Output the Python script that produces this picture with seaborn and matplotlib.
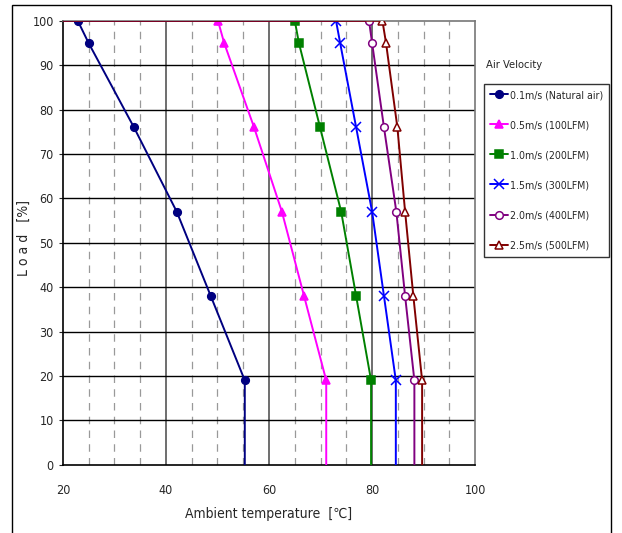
import numpy as np
import pandas as pd
import matplotlib
matplotlib.use("Agg")
import matplotlib.pyplot as plt
from matplotlib.lines import Line2D
from matplotlib.patches import Rectangle
import seaborn as sns

# Load points (%) for every curve; the curve starts at 20 C / 100 % and ends at 0 %
loads = [100, 100, 95, 76, 57, 38, 19, 0]

labels = ["0.1m/s (Natural air)", "0.5m/s (100LFM)", "1.0m/s (200LFM)",
          "1.5m/s (300LFM)", "2.0m/s (400LFM)", "2.5m/s (500LFM)"]

# ambient temperature at load 100, 95, 76, 57, 38, 19
temp_01 = [22.9, 25.0, 33.8, 42.1, 48.7, 55.3]
temp_05 = [50.1, 51.3, 57.1, 62.5, 66.8, 71.1]
temp_10 = [65.0, 65.8, 69.9, 74.0, 76.9, 79.8]
temp_15 = [73.0, 73.8, 76.9, 80.0, 82.3, 84.6]
temp_20 = [79.4, 80.0, 82.3, 84.7, 86.4, 88.2]
temp_25 = [82.0, 82.7, 84.9, 86.4, 88.0, 89.7]

temps = [temp_01, temp_05, temp_10, temp_15, temp_20, temp_25]

colors = ["#000080", "#ff00ff", "#008000", "#0000ff", "#800080", "#800000"]
markers = ["o", "^", "s", "x", "o", "^"]
filled = [True, True, True, True, False, False]

sns.set_style("white")
plt.rcParams["font.family"] = ["DejaVu Sans"]
plt.rcParams["font.stretch"] = "condensed"

fig = plt.figure(figsize=(6.22, 5.33), dpi=100)
ax = fig.add_axes([0.101, 0.128, 0.663, 0.833])

# grid first
for x in np.arange(25, 100, 5):
    if x % 20 == 0:
        ax.axvline(x, color="#555555", lw=1.2, zorder=1)
    else:
        ax.axvline(x, color="#999999", lw=0.9, ls=(0, (6, 5)), zorder=1)
for y in range(10, 100, 10):
    ax.axhline(y, color="black", lw=1.0, zorder=1)

handles = []
for lab, t, c, m, f in zip(labels, temps, colors, markers, filled):
    xs = [20] + t + [t[-1]]
    df = pd.DataFrame({"temp": xs, "load": loads})
    mfc = c if f else "white"
    ms = 5.5 if m != "x" else 6.5
    sns.lineplot(data=df, x="temp", y="load", ax=ax, sort=False, estimator=None,
                 color=c, lw=1.4, marker=m, markevery=list(range(1, 7)),
                 markersize=ms, mfc=mfc, mec=c, mew=1.1, zorder=3)
    handles.append(Line2D([0], [0], color=c, lw=1.4, marker=m, mfc=mfc, mec=c,
                          markersize=ms, mew=1.1))

ax.set_xlim(20, 100)
ax.set_ylim(0, 100)
ax.set_xticks(range(20, 101, 20))
ax.set_yticks(range(0, 101, 10))
ax.tick_params(labelsize=9, length=3, direction="out", left=True, bottom=False)
ax.tick_params(axis="x", pad=11)
for s in ["left", "bottom"]:
    ax.spines[s].set_color("black")
    ax.spines[s].set_linewidth(1.2)
for s in ["top", "right"]:
    ax.spines[s].set_color("#777777")
    ax.spines[s].set_linewidth(1.2)

ax.set_xlabel("Ambient temperature  [\u2103]", fontsize=10, labelpad=7)
ax.set_ylabel("L o a d   [%]", fontsize=10)
ax.yaxis.set_label_coords(-0.078, 0.51)

fig.text(0.781, 0.878, "Air Velocity", fontsize=8, ha="left", va="center")
leg = fig.legend(handles, labels, loc="upper left", bbox_to_anchor=(0.778, 0.843),
                 fontsize=7.6, frameon=True, fancybox=False, edgecolor="black",
                 labelspacing=1.9, handlelength=1.7, handletextpad=0.15,
                 borderpad=0.6, borderaxespad=0)
leg.get_frame().set_linewidth(1.0)

# outer frame of the figure
fig.patches.append(Rectangle((0.019, -0.01), 0.963, 1.0, transform=fig.transFigure,
                             fill=False, edgecolor="black", lw=1.0))

fig.savefig("out.png", dpi=100)
